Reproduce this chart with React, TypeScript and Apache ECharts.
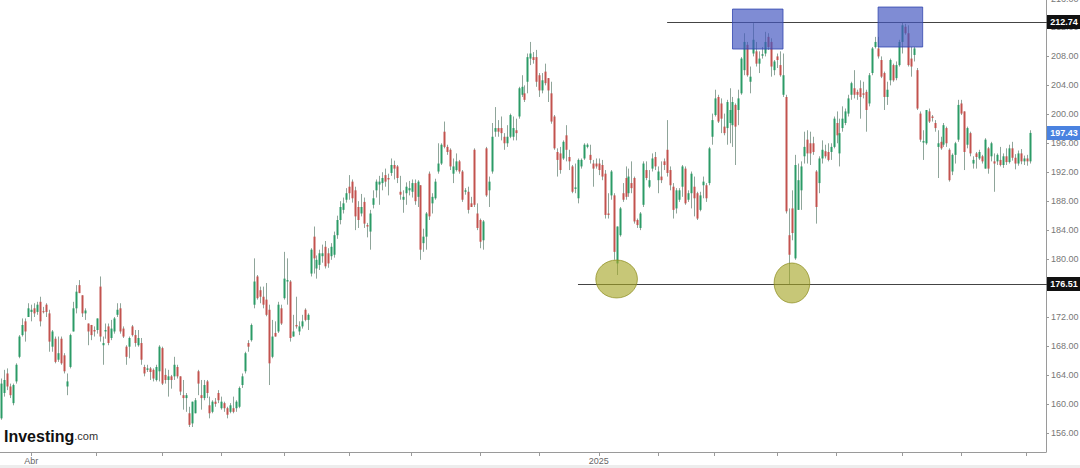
import { useEffect, useRef } from "react";
import * as echarts from "echarts";

// ---------- data ----------
const open = [
  158.0,161.5,164.2,162.4,160.1,163.1,166.5,169.5,171.4,172.0,172.7,173.2,172.7,174.1,172.8,173.7,172.5,167.9,169.0,166.1,169.0,166.7,162.4,165.1,170.0,173.2,176.4,175.0,172.5,171.1,170.9,170.2,170.2,176.2,168.1,
  170.0,170.7,169.1,170.0,172.3,173.2,170.4,167.9,167.9,170.7,169.5,168.1,168.4,165.1,164.7,164.9,164.7,163.3,164.5,167.7,164.0,163.3,163.8,163.8,165.1,163.8,161.2,160.8,158.7,157.3,158.7,164.5,161.2,160.8,
  163.1,159.8,158.9,160.3,161.5,159.4,160.1,159.4,158.9,159.4,159.4,159.6,162.6,164.5,168.4,168.8,173.7,177.6,175.7,174.8,174.4,173.0,166.5,169.8,170.0,173.2,174.6,176.9,176.9,169.3,170.9,170.0,170.7,173.0,171.6,
  178.0,183.1,178.7,179.2,180.4,181.7,180.8,180.4,180.6,183.3,185.4,186.8,188.2,190.0,190.7,189.5,187.2,186.3,187.9,184.7,183.8,187.5,189.5,190.3,190.5,191.6,191.2,191.9,193.0,192.8,189.3,188.2,189.1,189.5,189.3,190.5,
  188.6,190.2,182.2,183.1,191.8,187.7,188.4,192.1,193.2,197.6,195.5,195.1,191.8,192.3,193.5,192.1,189.3,189.3,187.7,195.1,186.3,185.4,182.6,195.3,189.5,192.1,197.6,198.1,198.1,196.9,196.0,196.9,196.9,197.8,199.7,
  202.7,202.9,204.5,207.7,207.9,207.9,205.4,203.3,205.9,205.0,202.9,199.7,194.8,194.6,193.9,197.1,194.1,192.8,189.7,188.4,192.8,193.9,195.5,194.4,193.2,193.2,193.2,193.0,191.8,186.3,188.8,188.8,179.4,183.3,189.1,
  191.2,189.1,190.5,191.2,185.4,184.3,187.5,192.3,190.0,192.5,194.1,190.9,191.4,193.5,195.1,192.3,190.0,187.0,188.2,190.0,192.5,188.2,189.1,190.0,189.1,186.8,190.2,190.2,190.5,196.9,199.9,202.4,201.5,198.3,198.1,
  198.8,198.5,201.3,200.6,202.9,206.1,209.6,204.5,208.4,208.7,207.0,208.1,208.4,210.7,210.0,206.1,208.0,206.8,202.7,202.4,183.3,187.0,180.1,186.8,189.5,194.2,196.5,196.0,196.0,192.1,190.5,193.9,194.9,194.8,194.8,195.5,
  198.8,194.6,198.1,198.8,200.1,202.7,203.6,203.1,203.6,202.9,203.1,201.5,205.7,209.3,209.1,207.5,205.7,202.4,204.7,206.8,205.0,206.8,210.0,212.1,211.2,207.7,208.2,206.1,200.1,196.1,196.0,200.4,199.7,198.8,195.5,
  196.2,195.8,198.1,195.1,192.1,194.4,196.5,201.5,200.4,195.8,197.4,193.2,194.6,193.9,194.2,192.5,195.3,194.2,193.5,193.5,193.7,
  193.0,194.2,193.4,195.3,194.0,193.2,194.6,193.5,193.9,193.5,
];
const close = [
  162.8,163.3,162.4,161.2,162.6,165.4,169.3,170.9,170.0,173.2,173.0,172.5,173.7,171.4,172.7,172.7,168.6,170.0,165.8,167.0,165.6,164.5,163.1,169.5,173.2,175.5,175.3,172.5,172.9,170.0,169.5,170.0,171.8,169.3,168.4,
  170.2,168.4,170.4,171.8,173.0,170.0,169.3,166.5,169.1,169.5,168.4,169.1,166.1,164.2,164.9,164.4,163.5,165.1,167.9,162.8,163.3,163.8,163.3,165.4,163.8,161.7,160.8,161.2,157.1,160.3,160.5,162.8,160.8,162.6,
  161.5,158.7,160.3,160.0,160.5,160.3,159.4,158.5,159.8,158.9,160.3,162.2,163.8,167.0,167.9,170.9,176.9,174.6,174.8,173.7,172.3,165.6,169.3,169.3,173.7,171.1,177.3,177.1,169.1,170.0,170.7,170.7,171.4,171.6,172.3,
  181.3,180.1,179.9,180.8,180.8,179.0,179.4,181.7,183.3,185.4,187.2,187.7,189.1,189.1,188.4,185.9,185.4,187.2,184.9,184.5,186.3,188.4,190.7,190.7,191.2,190.7,191.0,193.0,192.5,191.2,188.9,188.6,190.0,189.8,190.5,188.0,
  190.7,181.3,183.1,186.3,185.9,188.6,190.7,193.2,195.8,195.5,194.8,192.8,192.8,193.5,192.1,188.2,189.5,186.8,187.2,187.5,184.3,182.4,185.2,188.8,190.7,196.9,198.1,197.6,197.4,196.0,196.9,199.9,198.1,197.4,203.6,
  203.8,202.0,207.9,208.4,207.5,204.5,203.3,204.7,204.3,203.3,199.0,195.3,193.7,192.3,196.2,195.1,193.5,189.3,189.9,193.7,193.7,195.8,195.8,193.7,192.5,192.8,192.3,191.4,186.1,186.1,192.1,181.0,184.5,187.0,188.2,
  188.6,191.4,189.8,185.2,184.7,186.3,193.2,191.2,190.9,193.9,192.8,192.1,190.9,193.0,191.9,190.2,186.8,189.5,189.5,192.8,187.7,189.1,191.8,188.4,185.6,188.8,190.7,188.4,195.3,199.2,202.2,199.0,199.4,197.4,201.7,
  200.6,201.7,198.3,202.2,207.7,210.0,205.4,205.2,210.3,207.0,207.7,208.3,210.0,209.3,206.6,207.3,207.5,205.4,205.4,186.6,180.6,183.6,193.0,190.9,192.8,195.5,194.6,194.6,194.8,187.2,193.9,195.1,194.2,193.7,195.5,199.4,
  197.1,197.4,199.4,200.4,202.2,204.3,202.7,202.7,202.4,202.7,200.6,205.4,209.1,210.0,208.0,205.2,202.4,203.4,207.5,204.7,206.8,210.0,212.3,211.2,206.8,206.6,209.1,200.8,196.5,196.3,200.6,199.0,199.5,198.1,196.0,
  195.3,198.5,196.0,190.9,194.4,196.0,201.3,200.1,194.8,198.1,194.6,193.7,194.1,194.8,193.5,196.5,192.5,196.0,193.2,194.4,193.0,
  194.2,193.4,195.3,194.0,193.2,194.6,193.5,193.9,193.5,197.43,
];
const low = [
  157.8,161.0,161.9,160.8,159.8,162.8,166.3,169.3,168.6,172.0,171.4,172.0,172.3,170.7,172.5,172.0,167.2,167.2,165.6,165.8,165.4,164.2,161.2,164.9,170.0,172.5,175.3,172.0,171.6,168.1,168.8,169.3,169.7,168.6,165.4,
  169.0,168.1,168.8,169.7,172.0,169.7,169.1,165.4,166.3,169.3,167.9,167.9,165.4,163.8,164.4,163.3,163.1,163.1,163.1,162.6,162.8,161.0,162.1,163.3,163.5,161.2,159.2,158.9,156.8,156.8,158.7,161.2,159.2,160.5,
  160.8,158.0,158.7,159.6,160.1,159.2,158.9,158.0,158.7,158.7,158.9,159.4,162.2,164.2,167.2,168.6,173.2,174.4,173.9,173.2,172.1,162.6,166.3,169.3,169.8,170.9,174.4,173.7,168.6,169.3,170.4,169.5,170.4,171.4,170.2,
  177.6,178.0,177.3,178.5,179.5,178.7,178.8,179.9,180.2,182.8,184.8,186.3,187.8,188.2,187.8,184.0,184.3,185.9,184.3,183.0,181.3,187.0,188.5,187.5,189.5,190.0,188.8,191.5,191.0,190.5,188.2,186.4,187.5,188.8,188.5,187.5,
  187.2,179.9,181.0,181.3,185.4,186.3,188.2,191.8,193.0,195.3,194.4,192.3,190.5,192.1,191.8,187.9,188.9,186.3,187.2,187.2,184.0,181.5,181.3,188.6,187.2,191.8,196.9,196.9,196.4,195.1,195.5,196.7,196.4,196.4,199.4,
  202.4,201.7,202.9,206.8,207.0,203.8,202.4,202.9,204.0,201.7,198.7,195.1,191.4,191.8,193.7,193.5,192.3,189.1,189.1,187.7,192.5,193.7,195.3,193.2,190.0,192.5,191.6,190.9,185.6,185.6,188.2,179.9,177.8,183.1,187.9,
  188.2,188.6,189.1,184.9,184.3,184.0,187.2,190.9,189.8,192.1,192.3,189.1,190.5,192.3,191.4,189.5,185.6,186.3,187.9,188.6,187.5,187.9,187.0,185.9,185.4,186.6,188.4,187.9,190.2,195.8,199.7,198.8,197.4,197.1,195.8,
  196.0,195.5,193.0,198.5,202.7,205.4,205.2,202.9,208.0,206.6,205.7,207.7,208.0,208.9,205.2,205.4,206.4,205.2,202.4,186.3,176.51,182.6,179.9,186.8,186.8,193.2,193.2,193.0,194.4,184.9,189.1,193.2,193.9,193.5,193.7,195.3,
  196.0,192.8,197.6,198.5,199.7,202.0,202.2,202.0,199.4,202.2,197.6,201.1,205.4,209.1,207.7,205.0,200.6,201.3,204.0,204.5,204.7,206.6,208.4,211.0,206.6,205.2,207.3,200.6,196.2,193.7,195.8,198.8,199.0,197.6,191.2,
  195.1,195.5,195.5,190.7,191.6,193.2,196.2,199.9,192.3,195.3,194.2,192.5,192.5,193.7,193.2,192.5,191.8,193.5,189.3,193.0,192.8,
  192.6,193.0,193.2,193.6,192.4,192.9,193.1,193.0,192.9,193.2,
];
const high = [
  163.5,164.7,164.9,162.8,162.8,165.6,169.5,171.8,171.8,173.9,173.7,173.9,174.1,174.8,173.4,173.9,173.0,170.2,169.3,169.3,169.3,167.0,164.2,169.7,174.1,176.4,177.1,175.0,173.2,171.1,170.9,170.7,171.8,177.6,169.3,
  171.1,171.1,171.6,172.0,173.9,173.9,170.7,168.1,169.3,170.9,170.2,170.2,169.1,165.4,165.4,165.1,164.9,165.4,168.1,167.9,164.9,164.7,164.0,166.5,165.4,163.8,163.3,161.5,159.6,160.3,160.8,164.7,163.3,163.3,
  163.3,161.0,160.5,160.8,161.9,161.0,160.3,159.6,160.1,161.0,160.5,162.4,164.2,167.2,168.8,171.1,180.1,177.8,176.2,176.2,176.7,173.7,171.6,171.4,174.1,173.7,181.0,180.1,177.1,172.3,174.8,171.4,172.3,173.2,172.5,
  181.5,184.5,180.5,181.3,182.0,182.5,181.5,182.2,183.8,186.0,188.0,188.5,189.8,191.6,191.0,190.0,188.0,189.0,188.5,185.0,186.8,189.5,191.0,191.5,192.0,192.5,191.8,193.9,193.6,193.0,191.5,189.5,190.6,190.8,191.0,191.0,
  190.9,190.2,184.2,186.5,192.1,189.1,191.1,196.0,196.0,199.0,195.8,195.3,193.9,194.6,193.7,192.3,189.8,190.0,188.6,195.3,187.7,185.6,185.4,195.5,191.4,198.8,201.0,199.2,199.7,197.4,198.5,200.1,199.7,199.4,203.8,
  205.4,204.0,208.4,210.0,208.6,208.9,205.7,205.7,207.0,205.0,204.5,199.9,195.3,195.5,196.4,198.5,195.1,193.0,193.2,193.9,193.9,196.0,196.0,195.8,193.7,193.9,193.9,193.7,192.3,189.1,192.3,189.1,184.5,187.2,190.5,
  192.8,192.5,193.5,191.4,185.6,186.5,193.5,193.5,192.3,194.6,194.8,192.8,193.5,193.9,199.2,192.8,190.5,189.8,189.8,193.0,192.8,189.5,192.1,191.4,189.3,189.3,191.4,190.5,195.5,200.1,203.4,202.7,202.2,200.1,202.0,
  203.6,202.4,201.5,203.4,207.9,211.2,210.0,206.6,212.6,210.0,208.7,209.3,211.4,211.2,210.5,207.5,208.4,208.7,208.4,202.7,187.0,189.5,194.4,193.2,193.5,197.6,197.8,197.6,196.9,192.3,194.2,196.4,195.8,196.0,196.0,199.7,
  200.4,199.4,201.1,200.8,202.7,204.5,206.1,203.4,204.7,204.5,203.4,205.7,209.3,210.7,210.7,208.0,205.9,204.5,207.7,207.0,207.3,210.3,212.74,212.5,212.3,209.3,209.3,206.4,200.4,197.8,200.6,200.8,199.9,199.2,197.8,
  196.9,198.8,198.3,195.3,194.6,196.2,202.0,202.0,200.4,198.3,197.6,194.2,194.8,195.1,194.4,196.7,195.5,196.2,194.6,194.6,195.5,
  194.6,195.3,195.8,196.2,194.5,195.0,195.2,194.3,194.4,197.8,
];

const CAT_COUNT = 352;
const categories = Array.from({ length: CAT_COUNT }, (_, i) => String(i));
const monthTicks = [10, 32, 54, 74, 95, 117, 138, 161, 181, 201, 221, 240, 261, 281, 303, 323, 345];
const monthLabels: Record<number, string> = { 10: "Abr", 201: "2025" };
const yTickValues = [156, 160, 164, 168, 172, 176, 180, 184, 188, 192, 196, 200, 204, 208, 212, 216];
const levelLines = [
  { value: 212.74, from: 224 },
  { value: 176.51, from: 194 },
];
const lastPrice = 197.43;
const boxes = [
  { x0: 246.1, x1: 263.0, top: 214.54, bottom: 209.02 },
  { x0: 295.3, x1: 310.1, top: 214.82, bottom: 209.3 },
];
const ovals = [
  { cx: 207.1, cy: 177.25, rx: 6.7, ry: 2.62 },
  { cx: 266.0, cy: 176.7, rx: 5.7, ry: 2.76 },
];

const UP = "#2b9b66";
const DOWN = "#c2524e";
const WICK = "#8fa59a";
const FONT = "Liberation Sans, Arial, sans-serif";

export default function App() {
  const ref = useRef<HTMLDivElement>(null);

  useEffect(() => {
    if (!ref.current) return;
    const chart = echarts.init(ref.current, undefined, { renderer: "svg" });
    const rows = open.map((o, i) => [i, o, close[i], low[i], high[i]]);

    chart.setOption({
      animation: false,
      backgroundColor: "#ffffff",
      grid: { left: 0, right: 34, top: -1.5, bottom: 16, outerBoundsMode: "none", containLabel: false },
      xAxis: {
        type: "category",
        data: categories,
        boundaryGap: true,
        axisLine: { show: true, lineStyle: { color: "#9a9a9a", width: 1 } },
        axisTick: {
          show: true,
          alignWithLabel: true,
          length: 4,
          interval: (i: number) => monthTicks.includes(i),
          lineStyle: { color: "#9a9a9a" },
        },
        axisLabel: {
          show: true,
          interval: (i: number) => monthLabels[i] !== undefined,
          formatter: (_v: string, i: number) => monthLabels[i] ?? "",
          fontSize: 9,
          color: "#666",
          fontFamily: FONT,
          margin: 4,
        },
        splitLine: { show: false },
      },
      yAxis: {
        type: "value",
        position: "right",
        min: 153.35,
        max: 216,
        axisLine: { show: true, lineStyle: { color: "#9a9a9a", width: 1 } },
        axisTick: { show: true, length: 3, customValues: yTickValues, lineStyle: { color: "#9a9a9a" } },
        axisLabel: {
          show: true,
          customValues: yTickValues,
          formatter: (v: number) => v.toFixed(2),
          fontSize: 9,
          color: "#777",
          fontFamily: FONT,
          margin: 5,
        },
        splitLine: { show: false },
      },
      series: [
        {
          type: "custom",
          data: rows,
          encode: { x: 0, y: [1, 2, 3, 4] },
          renderItem: (_params: any, api: any) => {
            const idx = api.value(0);
            const o = api.value(1);
            const c = api.value(2);
            const l = api.value(3);
            const h = api.value(4);
            const pO = api.coord([idx, o]);
            const pC = api.coord([idx, c]);
            const pL = api.coord([idx, l]);
            const pH = api.coord([idx, h]);
            const xr = Math.round(pO[0]);
            const top = Math.min(pO[1], pC[1]);
            const bh = Math.max(Math.abs(pO[1] - pC[1]), 1);
            return {
              type: "group",
              children: [
                {
                  type: "line",
                  shape: { x1: xr + 0.5, y1: pH[1], x2: xr + 0.5, y2: pL[1] },
                  style: { stroke: WICK, lineWidth: 1 },
                },
                {
                  type: "rect",
                  shape: { x: xr - 0.5, y: top, width: 2, height: bh },
                  style: { fill: c >= o ? UP : DOWN },
                },
              ],
            };
          },
        },
      ],
    });

    const toPx = (i: number, v: number) =>
      chart.convertToPixel({ xAxisIndex: 0, yAxisIndex: 0 }, [i, v]) as number[];
    const rightX = chart.getWidth() - 34;
    const graphics: any[] = [];

    levelLines.forEach((ln) => {
      const [x1, y] = toPx(ln.from, ln.value);
      const yy = Math.round(y) + 0.5;
      graphics.push({
        type: "line",
        z: 50,
        shape: { x1, y1: yy, x2: rightX + 4, y2: yy },
        style: { stroke: "#444", lineWidth: 1 },
      });
    });

    boxes.forEach((b) => {
      const [xa, ya] = toPx(b.x0, b.top);
      const [xb, yb] = toPx(b.x1, b.bottom);
      graphics.push({
        type: "rect",
        z: 60,
        shape: { x: xa, y: ya, width: xb - xa, height: yb - ya },
        style: { fill: "rgba(66,86,192,0.68)", stroke: "rgba(50,70,175,0.8)", lineWidth: 1 },
      });
    });

    ovals.forEach((e) => {
      const [cx, cy] = toPx(e.cx, e.cy);
      const [ex] = toPx(e.cx + e.rx, e.cy);
      const [, ey] = toPx(e.cx, e.cy - e.ry);
      graphics.push({
        type: "ellipse",
        z: 60,
        shape: { cx, cy, rx: ex - cx, ry: ey - cy },
        style: { fill: "rgba(165,165,35,0.62)", stroke: "rgba(140,140,30,0.7)", lineWidth: 1 },
      });
    });

    const priceTag = (value: number, bg: string) => {
      const [, y] = toPx(0, value);
      graphics.push({
        type: "rect",
        z: 70,
        shape: { x: rightX + 1, y: Math.round(y) - 7, width: 34, height: 14 },
        style: { fill: bg },
      });
      graphics.push({
        type: "text",
        z: 71,
        x: rightX + 18,
        y: Math.round(y),
        style: {
          text: value.toFixed(2),
          fill: "#ffffff",
          font: `bold 9px ${FONT}`,
          align: "center",
          verticalAlign: "middle",
        },
      });
    };
    levelLines.forEach((ln) => priceTag(ln.value, "#111111"));
    priceTag(lastPrice, "#4a82e0");

    graphics.push({
      type: "text",
      z: 80,
      x: 4,
      y: 436,
      style: {
        text: "{a|Investing}{b|.com}",
        verticalAlign: "middle",
        rich: {
          a: { fontSize: 16, fontWeight: "bold", fill: "#111", fontFamily: FONT },
          b: { fontSize: 11, fill: "#333", fontFamily: FONT },
        },
      },
    });
    graphics.push({
      type: "rect",
      z: 1,
      shape: { x: 0, y: 465, width: chart.getWidth(), height: 3 },
      style: { fill: "#ededed" },
    });

    chart.setOption({ graphic: graphics });

    return () => chart.dispose();
  }, []);

  return (
    <div
      ref={ref}
      style={{ position: "fixed", left: 0, top: 0, width: 1080, height: 468, background: "#fff" }}
    />
  );
}
